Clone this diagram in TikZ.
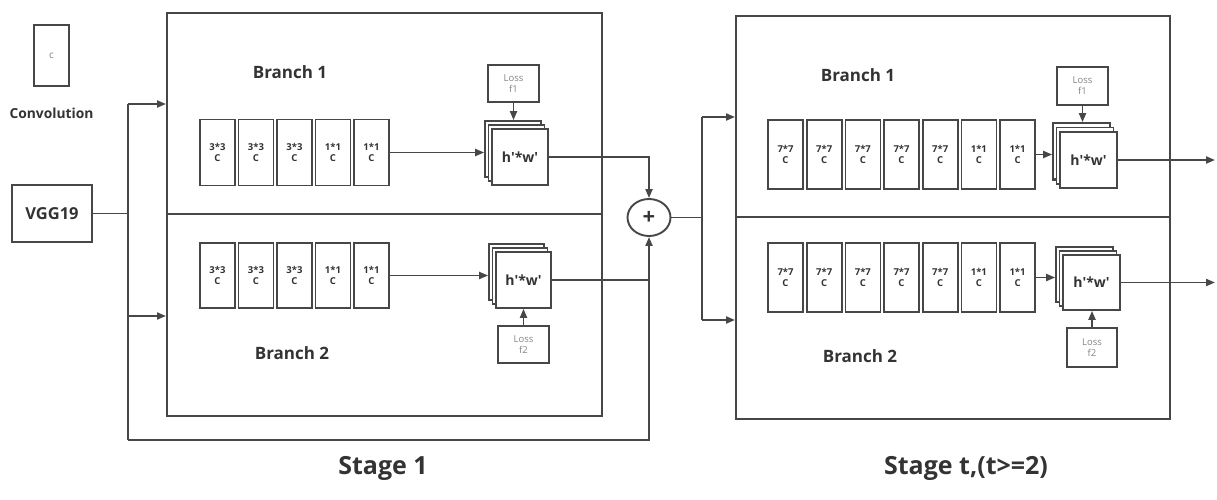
\documentclass[tikz,border=0pt]{standalone}
\usepackage{fontspec}
\setmainfont{Open Sans}
\usetikzlibrary{arrows.meta,shadows,shapes.geometric}
\definecolor{ln}{HTML}{474747}
\definecolor{tx}{HTML}{333333}
\definecolor{lt}{HTML}{858585}
\newcommand{\hw}{h\textquotesingle*w\textquotesingle}
\begin{document}
\begin{tikzpicture}[x=1pt,y=-1pt,
  color=ln,
  line width=1.9pt,
  >={Triangle[length=9pt,width=7pt]},
  stagebox/.style={draw=ln,line width=2pt,anchor=north west,inner sep=0pt},
  conv/.style={draw=ln,line width=1.7pt,minimum width=35pt,minimum height=66pt,inner sep=0pt,align=center,
    font=\fontsize{9.5}{11}\selectfont\bfseries,text=tx},
  stack/.style={draw=ln,fill=white,line width=1.7pt,minimum width=56pt,minimum height=56pt,inner sep=0pt,
    font=\fontsize{14}{16}\selectfont\bfseries,text=tx,
    double copy shadow={shadow xshift=-3.5pt,shadow yshift=4pt,fill=white,draw=ln,line width=1.4pt}},
  loss/.style={draw=ln,line width=1.7pt,minimum width=51pt,minimum height=37pt,inner sep=0pt,align=center,
    font=\fontsize{9.5}{11}\selectfont,text=lt},
  lbl/.style={font=\fontsize{17}{19}\selectfont\bfseries,text=tx},
  big/.style={font=\fontsize{25}{28}\selectfont\bfseries,text=tx}
]
\useasboundingbox (0,0) rectangle (1217,500);

% legend and input
\node[draw=ln,line width=1.7pt,minimum width=35pt,minimum height=61pt,inner sep=0pt,
  font=\fontsize{10}{12}\selectfont,text=lt] (leg) at (51.5,55.5) {c};
\node[font=\fontsize{13.8}{15}\selectfont\bfseries,text=tx] (legt) at (51.5,113) {Convolution};
\node[draw=ln,line width=1.7pt,minimum width=80pt,minimum height=57pt,inner sep=0pt,
  font=\fontsize{16.5}{18}\selectfont\bfseries,text=tx] (vgg) at (52,213.5) {VGG19};

% stage 1
\node[stagebox,minimum width=435pt,minimum height=403pt] (st1) at (166,12) {};
\draw[line width=2pt] (166,214) -- (601,214);
\node[lbl] (b11) at (290,72) {Branch 1};
\node[lbl] (b12) at (292,353) {Branch 2};
\foreach \i/\t in {1/3*3,2/3*3,3/3*3,4/1*1,5/1*1}{
  \node[conv] (ca\i) at ({217.5+38.5*(\i-1)},152.5) {\t\\C};
  \node[conv,minimum height=65pt] (cb\i) at ({217.5+38.5*(\i-1)},275.5) {\t\\C};
}
\node[stack] (s1a) at (520,157) {\hw};
\node[stack,minimum width=55pt] (s1b) at (523.5,280) {\hw};
\node[loss] (l1a) at (513.5,83.5) {Loss\\f1};
\node[loss] (l1b) at (523.5,344.5) {Loss\\f2};
\coordinate (t1a) at ([yshift=8pt]s1a.north);
\draw[->] (ca5.east) -- ([xshift=-7pt]s1a.west |- ca5.east);
\draw[->] (cb5.east) -- ([xshift=-7pt]s1b.west |- cb5.east);
\draw[->] (l1a.south) -- (l1a.south |- t1a);
\draw[->] (l1b.north) -- (l1b.north |- s1b.south);

% plus
\node[draw=ln,line width=1.9pt,ellipse,minimum width=43pt,minimum height=37pt,inner sep=0pt,
  font=\fontsize{22}{24}\selectfont\bfseries,text=tx] (plus) at (649,217.5) {+};
\draw[->] (s1a.east) -| (plus.north);
\draw (s1b.east) -- (plus.south |- s1b.east);

% input distribution and skip loop
\coordinate (j1) at (128,104);
\coordinate (j2) at (128,316);
\coordinate (j3) at (128,440);
\draw (vgg.east) -- (vgg.east -| j1);
\draw (j1) -- (j3);
\draw[->] (j1) -- (st1.west |- j1);
\draw[->] (j2) -- (st1.west |- j2);
\draw[->] (j3) -| (plus.south);

% stage t
\node[stagebox,minimum width=434pt,minimum height=403pt] (st2) at (735,15) {};
\draw[line width=2pt] (735,217) -- (1169,217);
\node[lbl] (b21) at (858,75) {Branch 1};
\node[lbl] (b22) at (860,356) {Branch 2};
\foreach \i/\t in {1/7*7,2/7*7,3/7*7,4/7*7,5/7*7,6/1*1,7/1*1}{
  \node[conv,minimum height=69pt] (da\i) at ({785.5+38.67*(\i-1)},154.5) {\t\\C};
  \node[conv,minimum height=69pt] (db\i) at ({785.5+38.67*(\i-1)},277.5) {\t\\C};
}
\node[stack,minimum width=57pt,double copy shadow={shadow xshift=-3.5pt,shadow yshift=4.5pt,fill=white,draw=ln,line width=1.4pt}] (s2a) at (1088.5,160) {\hw};
\node[stack,minimum width=57pt,minimum height=55pt] (s2b) at (1091.5,282.5) {\hw};
\node[loss,minimum height=38pt] (l2a) at (1082.5,86) {Loss\\f1};
\node[loss,minimum width=50pt,minimum height=39pt] (l2b) at (1092,347.5) {Loss\\f2};
\coordinate (t2a) at ([yshift=9pt]s2a.north);
\draw[->] (da7.east) -- ([xshift=-7pt]s2a.west |- da7.east);
\draw[->] (db7.east) -- ([xshift=-7pt]s2b.west |- db7.east);
\draw[->] (l2a.south) -- (l2a.south |- t2a);
\draw[->] (l2b.north) -- (l2b.north |- s2b.south);
\coordinate (o1) at (1215,160);
\coordinate (o2) at (1215,282.5);
\draw[->] (s2a.east) -- (o1);
\draw[->] (s2b.east) -- (o2);

% plus to stage t
\coordinate (k1) at (702,117);
\coordinate (k2) at (702,320);
\draw (plus.east) -- (plus.east -| k1);
\draw (k1) -- (k2);
\draw[->] (k1) -- (st2.west |- k1);
\draw[->] (k2) -- (st2.west |- k2);

% stage labels
\node[big] (lab1) at (383,468) {Stage 1};
\node[big] (lab2) at (966,468) {Stage t,(t>=2)};
\end{tikzpicture}
\end{document}
